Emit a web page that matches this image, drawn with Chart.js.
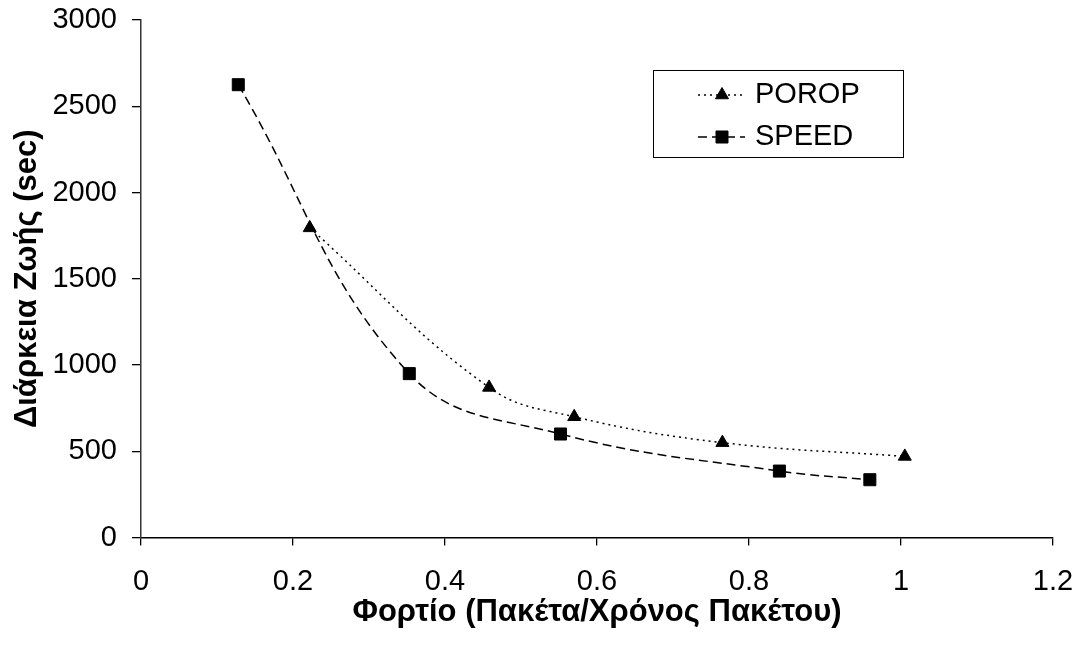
<!DOCTYPE html>
<html>
<head>
<meta charset="utf-8">
<title>Διάρκεια Ζωής</title>
<script src="https://cdn.jsdelivr.net/npm/chart.js@4.4.1/dist/chart.umd.min.js"></script>
<style>
  body { margin: 0; background: #fff; }
  #wrap { width: 1080px; height: 652px; }
</style>
</head>
<body>
<div id="wrap"><canvas id="lifeChart" width="1080" height="652"></canvas></div>
<script>
const seriesNames = ['POROP', 'SPEED'];
const poropLoad = [0.222, 0.458, 0.570, 0.765, 1.005];
const poropLife = [1795, 870, 700, 550, 470];
const speedLoad = [0.128, 0.353, 0.552, 0.840, 0.959];
const speedLife = [2625, 950, 600, 385, 335];
const xTickLabels = ['0', '0.2', '0.4', '0.6', '0.8', '1', '1.2'];
const yTickLabels = ['0', '500', '1000', '1500', '2000', '2500', '3000'];

const toPoints = (xs, ys) => xs.map((x, i) => ({ x: x, y: ys[i] }));
const family = '"Liberation Sans", Arial, sans-serif';

// boxed legend inside the plot: line sample with marker, then the name
const boxLegend = {
    id: 'boxLegend',
    afterDraw(chart) {
        const ctx = chart.ctx;
        const left = 653, top = 70, width = 250, height = 87;
        ctx.save();
        ctx.fillStyle = '#fff';
        ctx.fillRect(left, top, width, height);
        ctx.strokeStyle = '#000';
        ctx.lineWidth = 1;
        ctx.strokeRect(left + 0.5, top + 0.5, width, height);

        chart.data.datasets.forEach((ds, i) => {
            const y = top + 25 + i * 42;
            ctx.beginPath();
            ctx.setLineDash(ds.borderDash);
            ctx.lineWidth = ds.borderWidth;
            ctx.strokeStyle = ds.borderColor;
            ctx.moveTo(left + 45, y);
            ctx.lineTo(left + 92, y);
            ctx.stroke();
            ctx.setLineDash([]);

            ctx.fillStyle = ds.pointBackgroundColor;
            ctx.strokeStyle = ds.pointBorderColor;
            ctx.lineWidth = 1;
            Chart.helpers.drawPoint(ctx, {
                pointStyle: ds.pointStyle,
                radius: ds.pointRadius,
                borderWidth: 1,
                rotation: 0
            }, left + 69, y);

            ctx.fillStyle = '#000';
            ctx.font = '29px ' + family;
            ctx.textBaseline = 'middle';
            ctx.textAlign = 'left';
            ctx.fillText(ds.label, left + 102, y);
        });
        ctx.restore();
    }
};

const lifeChart = new Chart('lifeChart', {
    type: 'line',
    data: {
        datasets: [
            {
                label: seriesNames[0],
                data: toPoints(poropLoad, poropLife),
                borderColor: '#000',
                borderWidth: 1.5,
                borderDash: [2, 4],
                pointStyle: 'triangle',
                pointRadius: 7.5,
                pointHoverRadius: 7.5,
                pointBackgroundColor: '#000',
                pointBorderColor: '#000',
                pointBorderWidth: 1,
                tension: 0.4,
                fill: false
            },
            {
                label: seriesNames[1],
                data: toPoints(speedLoad, speedLife),
                borderColor: '#000',
                borderWidth: 1.5,
                borderDash: [9, 5],
                pointStyle: 'rect',
                pointRadius: 8.5,
                pointHoverRadius: 8.5,
                pointBackgroundColor: '#000',
                pointBorderColor: '#000',
                pointBorderWidth: 1,
                tension: 0.4,
                fill: false
            }
        ]
    },
    options: {
        responsive: false,
        animation: false,
        devicePixelRatio: 1,
        layout: {
            padding: { top: 20, right: 27, left: 0, bottom: 0 }
        },
        plugins: {
            legend: { display: false },
            tooltip: { enabled: false }
        },
        scales: {
            x: {
                type: 'linear',
                min: 0,
                max: 1.2,
                ticks: {
                    stepSize: 0.2,
                    padding: 19,
                    color: '#000',
                    maxRotation: 0,
                    autoSkip: false,
                    font: { family: family, size: 29 },
                    callback: (value, index) => xTickLabels[index]
                },
                grid: {
                    drawOnChartArea: false,
                    drawTicks: true,
                    tickLength: 8,
                    color: '#000',
                    lineWidth: 1.3
                },
                border: { color: '#000', width: 1.5 },
                title: {
                    display: true,
                    text: 'Φορτίο (Πακέτα/Χρόνος Πακέτου)',
                    color: '#000',
                    font: { family: family, size: 31, weight: 'bold', lineHeight: 1 },
                    padding: { top: 0, bottom: 24 }
                },
                afterFit: (scale) => {
                    scale.height = 114.5;
                    scale.paddingLeft = 0;
                    scale.paddingRight = 0;
                }
            },
            y: {
                min: 0,
                max: 3000,
                ticks: {
                    stepSize: 500,
                    padding: 15,
                    color: '#000',
                    font: { family: family, size: 29 },
                    callback: (value, index) => yTickLabels[index]
                },
                grid: {
                    drawOnChartArea: false,
                    drawTicks: true,
                    tickLength: 9,
                    color: '#000',
                    lineWidth: 1.3
                },
                border: { color: '#333', width: 1.5 },
                title: {
                    display: true,
                    text: 'Διάρκεια Ζωής (sec)',
                    color: '#000',
                    font: { family: family, size: 31, weight: 'bold', lineHeight: 1 },
                    padding: { top: 11.5, bottom: 0 }
                },
                afterFit: (scale) => {
                    scale.width = 141;
                    scale.paddingTop = 0;
                    scale.paddingBottom = 0;
                }
            }
        }
    },
    plugins: [boxLegend]
});
</script>
</body>
</html>
